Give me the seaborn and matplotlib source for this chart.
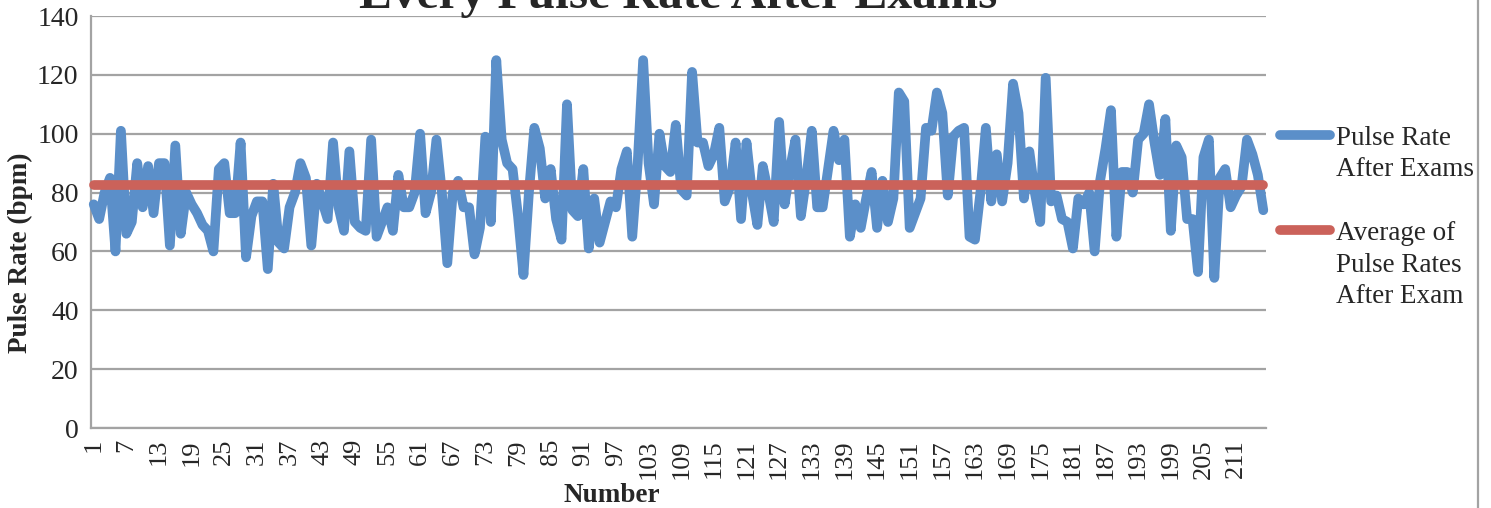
import numpy as np
import pandas as pd
import matplotlib
matplotlib.use("Agg")
import matplotlib.pyplot as plt
import seaborn as sns
from matplotlib.lines import Line2D

# ---------------- data ----------------
pulse = [
    76, 71, 80, 85, 60, 101, 66, 70, 90, 75,
    89, 73, 90, 90, 62, 96, 66, 80, 76, 73,
    69, 67, 60, 88, 90, 73, 73, 97, 58, 72,
    77, 77, 54, 83, 63, 61, 75, 80, 90, 85,
    62, 83, 77, 71, 97, 75, 67, 94, 70, 68,
    67, 98, 65, 70, 75, 67, 86, 75, 75, 80,
    100, 73, 80, 98, 80, 56, 80, 84, 75, 75,
    59, 68, 99, 70, 125, 98, 90, 88, 72, 52,
    80, 102, 95, 78, 88, 71, 64, 110, 74, 72,
    88, 61, 78, 63, 70, 77, 75, 88, 94, 65,
    90, 125, 90, 76, 100, 89, 87, 103, 81, 79,
    121, 97, 97, 89, 93, 102, 77, 82, 97, 71,
    97, 80, 69, 89, 80, 70, 104, 76, 88, 98,
    72, 85, 101, 75, 75, 88, 101, 91, 98, 65,
    76, 68, 78, 87, 68, 84, 70, 78, 114, 111,
    68, 73, 78, 102, 101, 114, 107, 79, 99, 101,
    102, 65, 64, 80, 102, 77, 93, 77, 90, 117,
    107, 78, 94, 80, 70, 119, 77, 79, 71, 70,
    61, 78, 76, 80, 60, 84, 95, 108, 65, 87,
    87, 80, 98, 100, 110, 97, 86, 105, 67, 96,
    92, 71, 71, 53, 92, 98, 51, 85, 88, 75,
    79, 82, 98, 93, 86, 74,
]
numbers = list(range(1, len(pulse) + 1))
average_pulse = 82.6
y_ticks = [0, 20, 40, 60, 80, 100, 120, 140]
x_tick_values = list(range(1, len(pulse) + 1, 6))
series_names = ["Pulse Rate\nAfter Exams", "Average of\nPulse Rates\nAfter Exam"]
title_text = "Every Pulse Rate After Exams"
x_label = "Number"
y_label = "Pulse Rate (bpm)"

BLUE = "#5B8FC9"
RED = "#CB625A"
GRID = "#A3A3A3"

sns.set_style("white")
plt.rcParams["font.family"] = ["Liberation Serif", "DejaVu Serif"]

W, H = 1491, 508
fig = plt.figure(figsize=(W / 100, H / 100), dpi=100)
L, R, T, B = 91, 1266, 16, 428
ax = fig.add_axes([L / W, 1 - B / H, (R - L) / W, (B - T) / H])

df = pd.DataFrame({"Number": numbers, "Pulse": pulse})
avg_df = pd.DataFrame({"Number": numbers, "Average": [average_pulse] * len(numbers)})

sns.lineplot(data=df, x="Number", y="Pulse", ax=ax, color=BLUE, linewidth=7,
             solid_capstyle="round", solid_joinstyle="round", zorder=3, clip_on=False)
sns.lineplot(data=avg_df, x="Number", y="Average", ax=ax, color=RED, linewidth=7,
             solid_capstyle="round", zorder=4, clip_on=False)

N = len(pulse)
ax.set_xlim(0.5, N + 0.5)
ax.set_ylim(0, 140)
ax.set_xlabel("")
ax.set_ylabel("")

ax.set_yticks(y_ticks)
ax.set_yticklabels([str(v) for v in y_ticks], fontsize=20)
ax.yaxis.grid(True, color=GRID, linewidth=1.6)
ax.xaxis.grid(False)
ax.set_axisbelow(True)

ax.set_xticks(x_tick_values)
ax.set_xticklabels([str(v) for v in x_tick_values], rotation=90, fontsize=19)
ax.set_xticks(np.arange(0.5, N + 1, 1), minor=True)
ax.tick_params(axis="x", which="major", length=0, pad=8)
ax.tick_params(axis="x", which="minor", length=5, width=1, color=GRID)
ax.tick_params(axis="y", which="major", length=5, width=1.2, color=GRID, pad=4)

for s in ["top", "right"]:
    ax.spines[s].set_visible(False)
for s in ["left", "bottom"]:
    ax.spines[s].set_color(GRID)
    ax.spines[s].set_linewidth(1.6)

# titles / axis labels
fig.text(678 / W, 1 - 8 / H, title_text, ha="center", va="baseline",
         fontsize=35.6, fontweight="bold")
fig.text(20 / W, 1 - 253 / H, y_label, rotation=90, ha="center", va="center",
         fontsize=19.5, fontweight="bold")
fig.text(612 / W, 1 - 495 / H, x_label, ha="center", va="center",
         fontsize=19.5, fontweight="bold")

# legend (drawn manually to match placement)
for yy, col, name, cy in [(135, BLUE, series_names[0], 154),
                          (230, RED, series_names[1], 265)]:
    fig.add_artist(Line2D([1280 / W, 1330 / W], [1 - yy / H, 1 - yy / H], color=col,
                          linewidth=7, solid_capstyle="round"))
    fig.text(1336 / W, 1 - cy / H, name, ha="left", va="center", fontsize=19.5,
             linespacing=1.34)

# right border of chart area
fig.add_artist(Line2D([1478 / W, 1478 / W], [0, 1], color=GRID, linewidth=1.6))

fig.savefig("out.png", dpi=100)
